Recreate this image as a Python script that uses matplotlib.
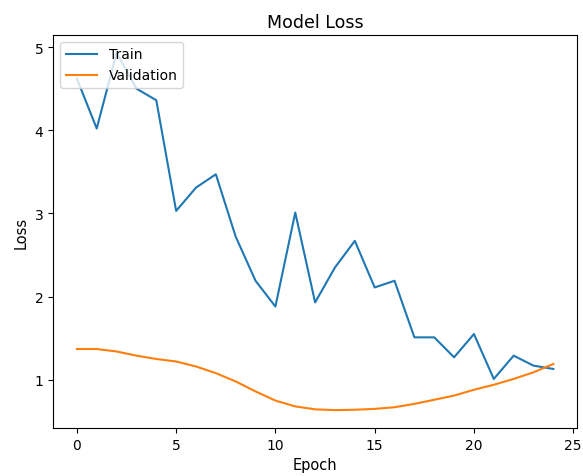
import matplotlib
matplotlib.use("Agg")
import matplotlib.pyplot as plt

epochs = list(range(25))
train_loss = [4.62, 4.02, 4.93, 4.50, 4.36, 3.03, 3.31, 3.47, 2.72, 2.19,
              1.88, 3.01, 1.93, 2.35, 2.67, 2.11, 2.19, 1.51, 1.51, 1.27,
              1.55, 1.01, 1.29, 1.17, 1.13]
val_loss = [1.37, 1.37, 1.34, 1.29, 1.25, 1.22, 1.16, 1.08, 0.98, 0.86,
            0.75, 0.68, 0.645, 0.635, 0.64, 0.65, 0.67, 0.71, 0.76, 0.81,
            0.88, 0.94, 1.01, 1.09, 1.19]

plt.rcParams["font.size"] = 10
fig = plt.figure(figsize=(5.83, 4.77), dpi=100)
ax = fig.add_axes([0.091, 0.1006, 0.899, 0.824])

ax.plot(epochs, train_loss, label="Train")
ax.plot(epochs, val_loss, label="Validation")
ax.set_title("Model Loss", fontsize=12.5)
ax.set_xlabel("Epoch", fontsize=10.5)
ax.set_ylabel("Loss", fontsize=10.5)
ax.tick_params(labelsize=10)
ax.legend(loc="upper left", handlelength=2.3)

fig.savefig("out.png", dpi=100)
